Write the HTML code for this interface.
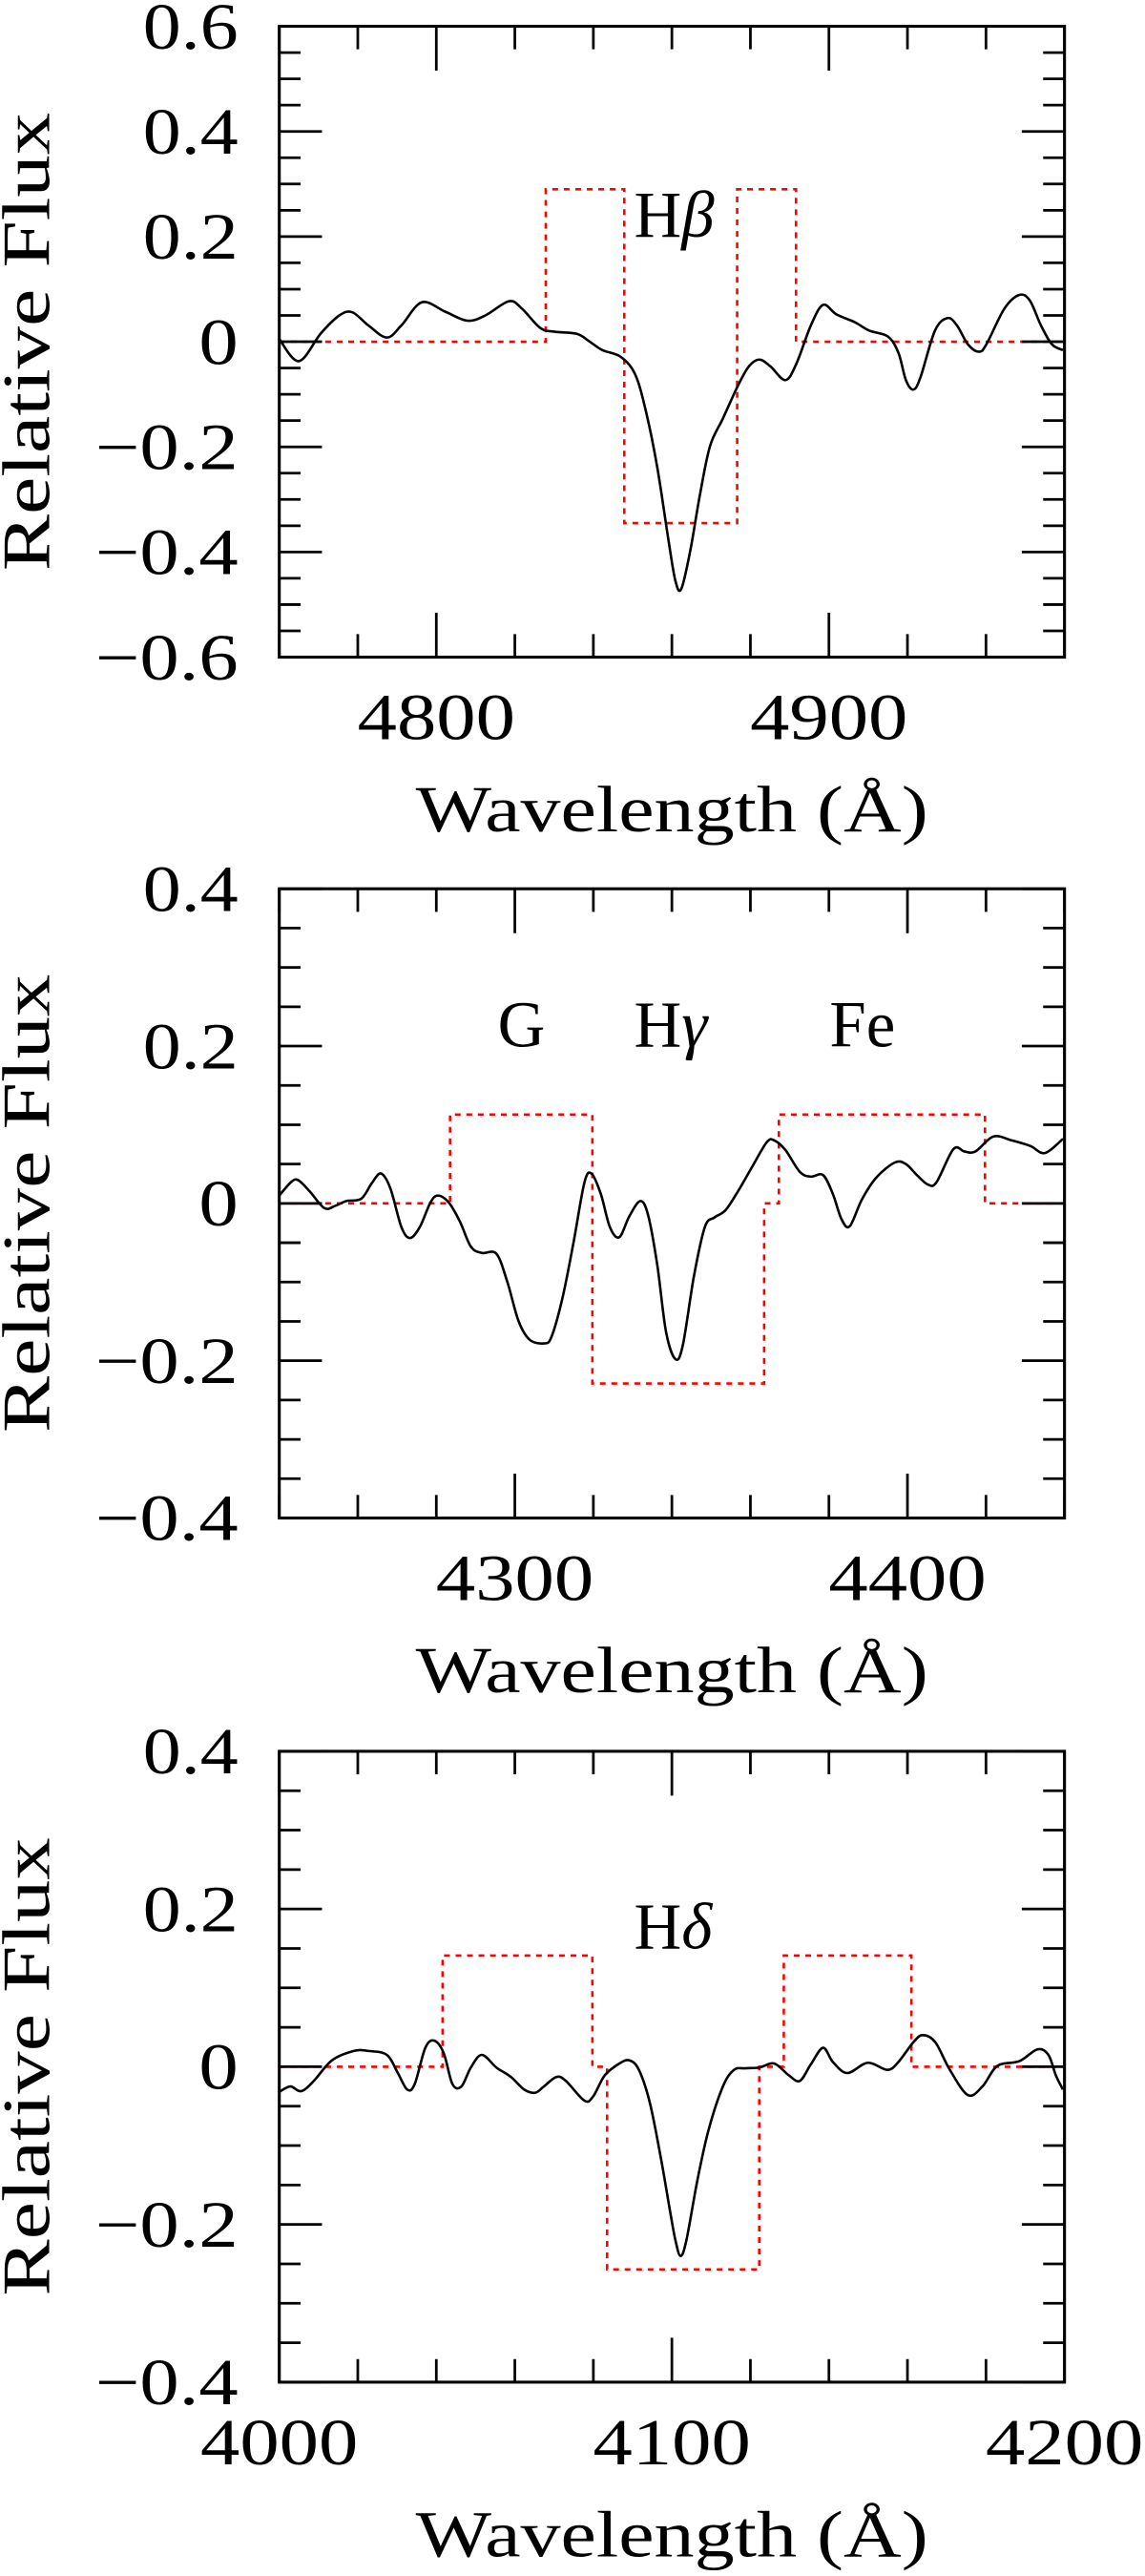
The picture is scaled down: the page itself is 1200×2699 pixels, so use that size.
<!DOCTYPE html>
<html><head><meta charset="utf-8"><style>
html,body{margin:0;padding:0;background:#fff;}
svg{display:block;}
text{font-family:"Liberation Serif",serif;fill:#000;}
</style></head><body>
<svg id="fig" xmlns="http://www.w3.org/2000/svg" width="1200" height="2699" viewBox="0 0 697 1568" preserveAspectRatio="none"></svg>
<script>
// Panel 1 (H-beta) data
const hbWave = [4760,4765,4770.6,4775.3,4778.6,4782.7,4787.4,4791.1,4796.3,4802.3,4807.9,4812.5,4818.5,4821.8,4826.5,4830.2,4835.8,4839.1,4842.3,4847,4850.7,4853.5,4856.3,4859.1,4860.9,4862.4,4864.7,4867.1,4869.7,4873,4876.8,4879.6,4882.3,4885.1,4888.9,4891.7,4895.4,4898.5,4901.9,4906.6,4910.3,4915,4917.7,4919.6,4921.5,4923.3,4927,4930.2,4932.6,4935.4,4938.2,4940.1,4944.7,4948.5,4951.2,4954,4956.8,4959.6];
const hbFlux = [0.005,-0.037,0.016,0.05,0.056,0.031,0.008,0.031,0.075,0.057,0.04,0.05,0.077,0.063,0.026,0.019,0.015,0,-0.016,-0.029,-0.063,-0.136,-0.24,-0.376,-0.455,-0.47,-0.397,-0.293,-0.199,-0.146,-0.084,-0.047,-0.034,-0.047,-0.073,-0.042,0.031,0.07,0.052,0.037,0.021,0.01,-0.021,-0.073,-0.091,-0.068,0.021,0.045,0.031,-0.005,-0.019,-0.005,0.063,0.089,0.078,0.031,-0.005,-0.016];
const hbBandEdges = [4760,4827.875,4847.875,4876.625,4891.625,4960];
const hbBandLevels = [0,0.29,-0.345,0.29,0];
const hbYTicks = ["0.6","0.4","0.2","0","−0.2","−0.4","−0.6"];
const hbXTicks = [4800,4900];

// Panel 2 (G, H-gamma, Fe) data
const hgWave = [4240,4243.2,4245,4247.8,4251.5,4254.3,4257.1,4260.9,4263.6,4265.9,4268.3,4271.1,4273.3,4275.8,4278.5,4280.4,4283.2,4286,4288.8,4291.6,4295.3,4298.1,4300.9,4303.7,4307.4,4309.3,4312.1,4314.9,4317.7,4319.5,4321.9,4324.2,4326.6,4329.2,4332,4334,4336.3,4338.5,4340.9,4342.8,4345.6,4348.4,4350.8,4353.6,4356.8,4360.5,4364.2,4366.1,4368.9,4372.6,4375.4,4378.5,4381,4383.2,4385.3,4388.4,4392.1,4396.8,4399.6,4402.4,4405.2,4407.4,4411.7,4414.5,4417.3,4421.9,4426.6,4431.3,4435,4439.6];
const hgFlux = [0.01,0.028,0.029,0.015,-0.006,-0.003,0.003,0.006,0.026,0.038,0.019,-0.03,-0.044,-0.03,0.001,0.01,0.001,-0.023,-0.055,-0.063,-0.064,-0.1,-0.149,-0.173,-0.178,-0.17,-0.121,-0.051,0.026,0.038,0.012,-0.03,-0.043,-0.016,0.003,-0.016,-0.079,-0.163,-0.198,-0.18,-0.093,-0.03,-0.018,-0.009,0.015,0.047,0.078,0.08,0.068,0.04,0.034,0.036,0.012,-0.02,-0.029,0.005,0.033,0.052,0.05,0.036,0.024,0.027,0.069,0.066,0.066,0.085,0.08,0.073,0.064,0.082];
const hgBandEdges = [4240,4283.5,4319.75,4363.5,4367.25,4419.75,4440];
const hgBandLevels = [0,0.113,-0.229,0,0.113,0];
const hgYTicks = ["0.4","0.2","0","−0.2","−0.4"];
const hgXTicks = [4300,4400];

// Panel 3 (H-delta) data
const hdWave = [4000,4002.8,4005.6,4008.8,4013.4,4019,4022.7,4027.4,4030.2,4032.6,4034.5,4037.2,4039.5,4041.9,4044.1,4046.4,4048.8,4051.6,4055.3,4059,4062.4,4065.2,4067.4,4070.6,4073,4077.7,4079.9,4082.9,4086.6,4089.2,4091.6,4094.4,4097.2,4099.6,4100.9,4102.2,4103.7,4106.5,4109.3,4113,4115.8,4118.6,4122.3,4126.1,4129.8,4132.6,4135.4,4138.5,4141,4144.7,4149.9,4154.9,4157.7,4161.5,4163.9,4167.1,4170.8,4175.4,4179.1,4182.9,4188.5,4193.1,4195.9,4197.8,4199.6];
const hdFlux = [-0.032,-0.025,-0.031,-0.018,0.008,0.02,0.02,0.015,-0.008,-0.029,-0.022,0.024,0.033,0.017,-0.022,-0.025,-0.001,0.015,-0.001,-0.013,-0.029,-0.033,-0.025,-0.013,-0.018,-0.043,-0.038,-0.011,0.004,0.008,-0.004,-0.046,-0.116,-0.185,-0.22,-0.24,-0.22,-0.144,-0.081,-0.025,-0.004,-0.002,-0.001,0.004,-0.011,-0.018,0.003,0.024,0.006,-0.008,0.005,-0.004,0.006,0.031,0.04,0.031,-0.004,-0.036,-0.025,0.001,0.007,0.022,0.015,-0.011,-0.029];
const hdBandEdges = [4000,4041.6,4079.75,4083.5,4122.25,4128.5,4161,4200];
const hdBandLevels = [0,0.141,0,-0.257,0,0.141,0];
const hdYTicks = ["0.4","0.2","0","−0.2","−0.4"];
const hdXTicks = [4000,4100,4200];

const NS = "http://www.w3.org/2000/svg";
const svg = document.getElementById("fig");
const L = 170, R = 648;

function mk(tag, attrs, parent){
  const e = document.createElementNS(NS, tag);
  for (const k in attrs) e.setAttribute(k, attrs[k]);
  (parent||svg).appendChild(e);
  return e;
}
function labelWidth(s){
  let w = 0;
  for (const c of s){ if (c === ".") w += 10; else if (c === "−") w += 29; else w += 24; }
  return w;
}
function smoothPath(pts){
  let d = "M" + pts[0][0].toFixed(2) + "," + pts[0][1].toFixed(2);
  for (let i = 0; i < pts.length - 1; i++){
    const p0 = pts[Math.max(0, i-1)], p1 = pts[i], p2 = pts[i+1], p3 = pts[Math.min(pts.length-1, i+2)];
    const c1x = p1[0] + (p2[0]-p0[0])/6, c1y = p1[1] + (p2[1]-p0[1])/6;
    const c2x = p2[0] - (p3[0]-p1[0])/6, c2y = p2[1] - (p3[1]-p1[1])/6;
    d += ` C${c1x.toFixed(2)},${c1y.toFixed(2)} ${c2x.toFixed(2)},${c2y.toFixed(2)} ${p2[0].toFixed(2)},${p2[1].toFixed(2)}`;
  }
  return d;
}

function panel(name, cfg){
  const g = mk("g", {});
  
  
  const {x0,x1,y0,y1,top,bot} = cfg;
  const sx = w => L + (w - x0) / (x1 - x0) * (R - L);
  const sy = v => bot - (v - y0) / (y1 - y0) * (bot - top);

  let d = "";
  for (let i = 0; i < cfg.levels.length; i++){
    const xa = sx(cfg.edges[i]), xb = sx(cfg.edges[i+1]), y = sy(cfg.levels[i]);
    d += (i === 0 ? "M" : "L") + xa.toFixed(2) + "," + y.toFixed(2) + " L" + xb.toFixed(2) + "," + y.toFixed(2) + " ";
  }
  const band = mk("path", {d: d, fill: "none", stroke: "#f00", "stroke-width": 1.5, "stroke-dasharray": "3.5,3.5"}, g);
  
  

  const pts = cfg.wave.map((w, i) => [sx(w), sy(cfg.flux[i])]);
  const spec = mk("path", {d: smoothPath(pts), fill: "none", stroke: "#000", "stroke-width": 1.5, "stroke-linejoin": "round"}, g);
  
  

  const fr = mk("rect", {x: L, y: top, width: R - L, height: bot - top, fill: "none", stroke: "#000", "stroke-width": 1.8}, g);
  
  

  let t = "";
  const nY = Math.round((y1 - y0) / 0.05);
  for (let i = 0; i <= nY; i++){
    const v = y0 + i * 0.05, y = sy(v);
    const major = (i % 4 === 0);
    const len = major ? 26 : 13;
    t += `M${L},${y.toFixed(2)}h${len} M${R},${y.toFixed(2)}h${-len} `;
  }
  for (let w = Math.ceil(x0 / 20) * 20; w <= x1; w += 20){
    const x = sx(w), major = (w % 100 === 0);
    const len = major ? 27 : 14;
    t += `M${x.toFixed(2)},${bot}v${-len} M${x.toFixed(2)},${top}v${len} `;
  }
  const tk = mk("path", {d: t, stroke: "#000", "stroke-width": 1.6, fill: "none"}, g);
  
  

  cfg.yTicks.forEach((s, i) => {
    const v = y1 - i * 0.2;
    const tx = mk("text", {x: 145, y: (sy(v) + 13.5).toFixed(2), "text-anchor": "end", "font-size": 40, textLength: labelWidth(s), lengthAdjust: "spacingAndGlyphs"}, g);
    tx.textContent = s;
    
    
  });
  cfg.xTicks.forEach(w => {
    const s = String(w);
    const tx = mk("text", {x: sx(w).toFixed(2), y: bot + 50, "text-anchor": "middle", "font-size": 40, textLength: labelWidth(s), lengthAdjust: "spacingAndGlyphs"}, g);
    tx.textContent = s;
    
    
  });
  const cy = (top + bot) / 2;
  const yt = mk("text", {x: 0, y: 0, "text-anchor": "middle", "font-size": 41, textLength: 279, lengthAdjust: "spacingAndGlyphs", transform: `translate(30,${cy}) rotate(-90)`}, g);
  yt.textContent = "Relative Flux";
  
  
  const xt = mk("text", {x: 409, y: bot + 106, "text-anchor": "middle", "font-size": 40, textLength: 312, lengthAdjust: "spacingAndGlyphs"}, g);
  xt.textContent = "Wavelength (Å)";
  
  

  cfg.labels.forEach(lb => {
    const tx = mk("text", {x: lb.x, y: lb.y, "font-size": 40}, g);
    
    
    const a = mk("tspan", {}, tx); a.textContent = lb.a;
    if (lb.b){ const b = mk("tspan", {"font-style": "italic"}, tx); b.textContent = lb.b; }
  });
}

panel("hbeta", {x0:4760,x1:4960,y0:-0.6,y1:0.6,top:16,bot:400,wave:hbWave,flux:hbFlux,edges:hbBandEdges,levels:hbBandLevels,yTicks:hbYTicks,xTicks:hbXTicks,
  labels:[{n:'hbeta-label',x:386,y:144,a:'H',b:'β'}]});
panel("hgamma", {x0:4240,x1:4440,y0:-0.4,y1:0.4,top:541,bot:924,wave:hgWave,flux:hgFlux,edges:hgBandEdges,levels:hgBandLevels,yTicks:hgYTicks,xTicks:hgXTicks,
  labels:[{n:'g-band-label',x:303,y:637,a:'G'},{n:'hgamma-label',x:386,y:637,a:'H',b:'γ'},{n:'fe-label',x:505,y:637,a:'Fe'}]});
panel("hdelta", {x0:4000,x1:4200,y0:-0.4,y1:0.4,top:1066,bot:1450,wave:hdWave,flux:hdFlux,edges:hdBandEdges,levels:hdBandLevels,yTicks:hdYTicks,xTicks:hdXTicks,
  labels:[{n:'hdelta-label',x:386,y:1186,a:'H',b:'δ'}]});
</script>
</body></html>
